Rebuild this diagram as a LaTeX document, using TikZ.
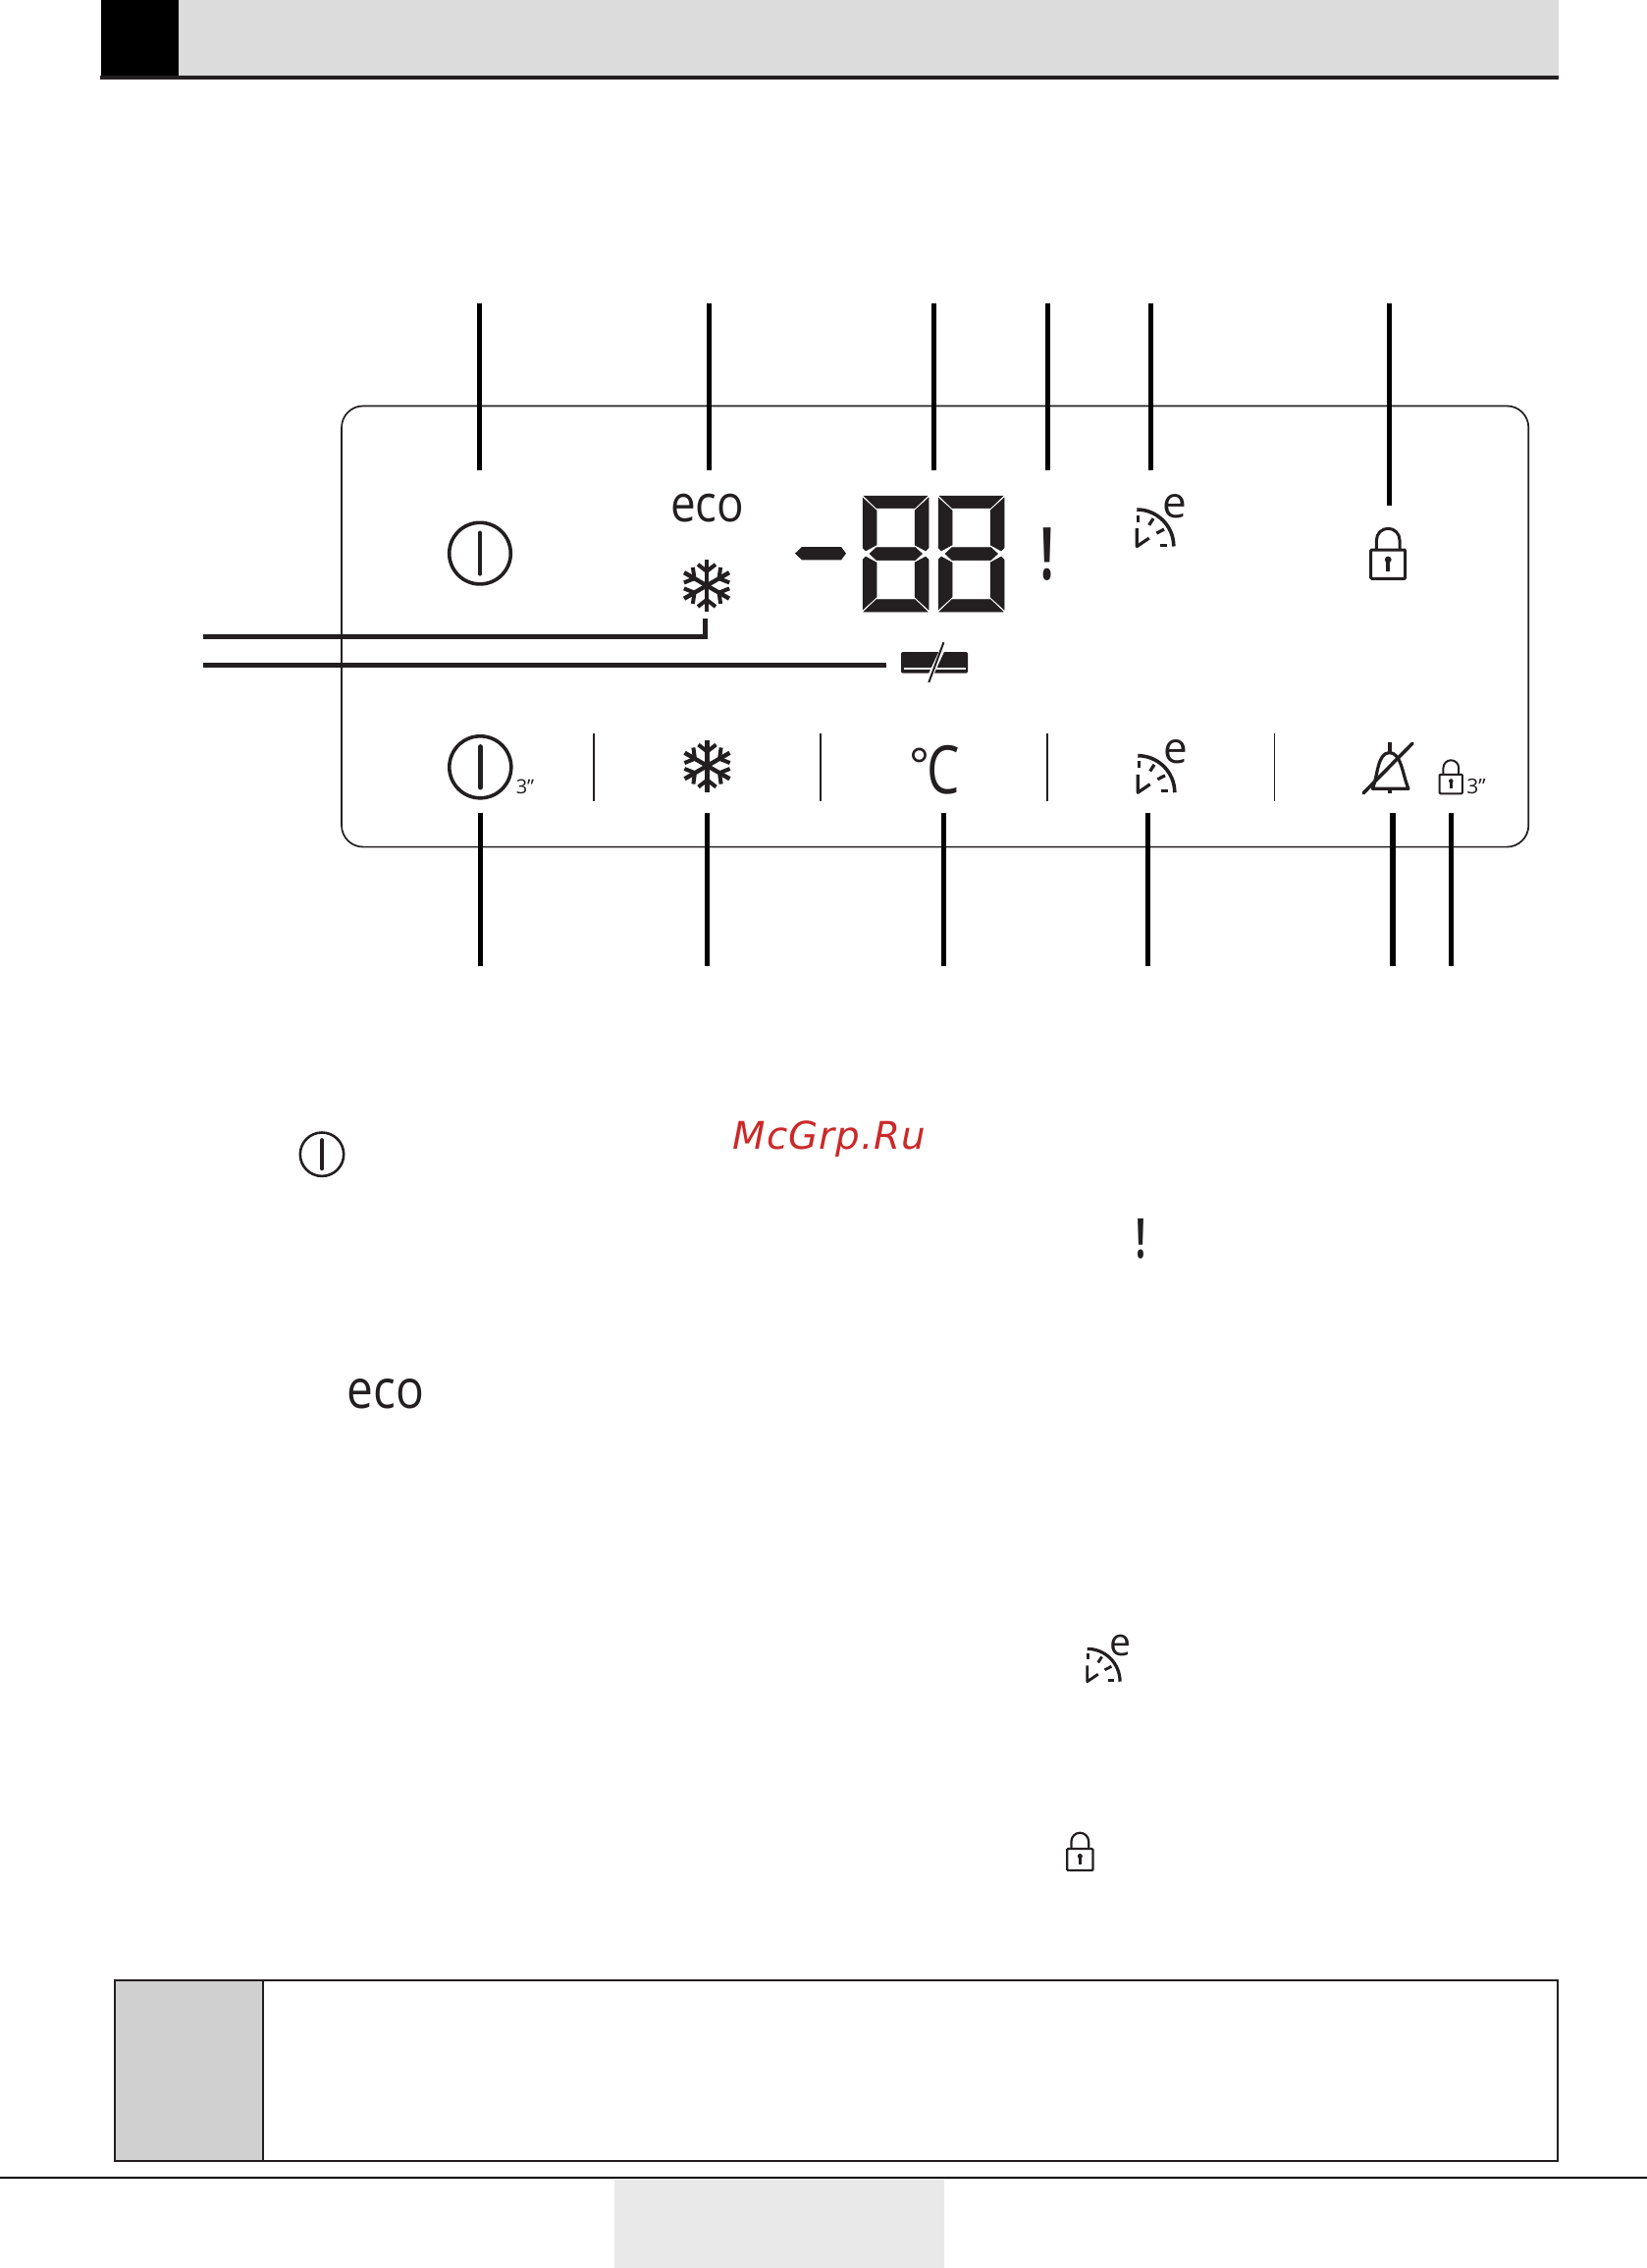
\documentclass[tikz,border=0pt]{standalone}
\usepackage{fontspec}
\setmainfont{Open Sans}
\newfontfamily\markfont[LetterSpace=2.5]{DejaVu Sans}
\definecolor{inkblack}{RGB}{35,31,32}
\definecolor{headgray}{RGB}{220,220,220}
\definecolor{notegray}{RGB}{208,208,208}
\definecolor{footgray}{RGB}{233,233,233}
\definecolor{markred}{RGB}{204,40,40}
\tikzset{
  lead/.style={black, line width=5pt},
  leader/.style={inkblack, line width=4.6pt},
  sepline/.style={inkblack, line width=1.6pt},
  label/.style={inkblack, inner sep=0pt, anchor=base},
}
% icons, origin at the centre or at the lower corner
\newcommand{\powericon}[4]{
  \draw[inkblack, line width=#4pt] (#1, #2) circle (#3);
  \draw[inkblack, line width=#4pt + 1.2pt, line cap=round]
    (#1, #2 - 0.66*#3) -- (#1, #2 + 0.66*#3);
}
\newcommand{\snowicon}[2]{
  \begin{scope}[shift={(#1, #2)}]
    \foreach \a in {0, 60, ..., 300} {
      \draw[inkblack, line width=4.4pt, rotate=\a] (0, 0) -- (0, -26.5);
      \draw[inkblack, line width=4pt, rotate=\a] (-9, -21.5) -- (0, -14.5) -- (9, -21.5);
    }
  \end{scope}
}
\newcommand{\clockicon}[3]{
  \begin{scope}[shift={(#1, #2)}, scale=#3, inkblack]
    \draw[line width=#3*3.6pt] (0, -37.5) arc[start angle=-90, end angle=0, radius=37.5];
    \draw[line width=#3*3.2pt] (1, -32) -- (1, -25);
    \draw[line width=#3*3.2pt] (12.4, -21.7) -- (16.7, -28.4);
    \draw[line width=#3*3.2pt] (20, -13.4) -- (27.7, -17.4);
    \draw[line width=#3*3.2pt] (23.4, -1.4) -- (31, -1.4);
    \draw[line width=#3*3.2pt, line join=round] (0, -18.4) -- (0, 0) -- (12.4, -8.4);
    \node[label, anchor=center, scale=#3, font=\fontsize{44}{44}\selectfont] at (38.4, -41) {e};
  \end{scope}
}
\newcommand{\lockicon}[3]{
  \begin{scope}[shift={(#1, #2)}, scale=#3, inkblack]
    \draw[line width=#3*3pt, rounded corners=1pt] (-17.5, -29.3) rectangle (17.5, 0);
    \draw[line width=#3*3pt] (-11.8, -29.3) -- (-11.8, -39.2)
      arc[start angle=180, end angle=360, radius=11.8] -- (11.8, -29.3);
    \fill (0, -19.3) circle (3.4);
    \draw[line width=#3*3.8pt] (0, -19.3) -- (0, -7.6);
  \end{scope}
}
\newcommand{\lcddigit}[2]{
  \begin{scope}[shift={(#1 + 33.5, #2 + 59)}, inkblack]
    \foreach \my in {1, -1} {
      \filldraw[line width=0.5pt, yscale=\my] (-32.5, -59) -- (32.5, -59) -- (19.5, -46.5) -- (-19.5, -46.5) -- cycle;
      \foreach \mx in {1, -1} {
        \filldraw[line width=0.5pt, xscale=\mx, yscale=\my] (-33.5, -57) -- (-19.5, -44) -- (-19.5, -9)
          -- (-30.5, -3) -- (-33.5, -6) -- cycle;
      }
    }
    \filldraw[line width=0.5pt] (-26.5, 0) -- (-19.5, -6.5) -- (20, -6.5) -- (27, 0) -- (20, 6.5) -- (-19.5, 6.5) -- cycle;
  \end{scope}
}
\begin{document}
\begin{tikzpicture}[x=1pt, y=-1pt]
  \useasboundingbox (0, 0) rectangle (1678, 2310);
  % header band
  \fill[headgray] (182, 0) rectangle (1588, 76.5);
  \fill[black] (103, 0) rectangle (182, 76.7);
  \fill[inkblack] (102.3, 76.7) rectangle (1588, 81);
  % display panel
  \draw[inkblack, line width=1.7pt, rounded corners=22pt] (348, 413.5) rectangle (1557.3, 862.6);
  % leads above and below the panel
  \foreach \name/\x/\ya/\yb/\w in {power/488.6/309.4/479/5, eco/722.5/309.4/479/5, temp/951.7/309.4/479/5,
      alarm/1067/309.4/479/5, express/1172.6/309.4/479/5, lock/1415.5/309.4/515/5,
      keypower/489.6/827.7/983.5/5, keysnow/720.5/827.7/983.5/5, keytemp/961.3/827.7/983.5/5,
      keyexpress/1169.3/827.7/983.5/5, keybell/1419/827.7/983.5/6.2, keylock/1478.3/827.7/983.5/5} {
    \coordinate (\name a) at (\x, \ya);
    \coordinate (\name b) at (\x, \yb);
    \draw[lead, line width=\w pt] (\name a) -- (\name b);
  }
  \coordinate (snowa) at (207, 648.7);
  \coordinate (snowb) at (718.6, 648.7);
  \coordinate (snowc) at (718.6, 630);
  \draw[leader] (snowa) -- (snowb) -- (snowc);
  \coordinate (acl) at (207, 677.3);
  \coordinate (acr) at (903, 677.3);
  \draw[leader, line width=5.2pt] (acl) -- (acr);
  % upper row
  \powericon{489}{563.6}{31.3}{3.6}
  \node[label, font=\fontsize{52}{52}\selectfont] (ecotop) at (720.7, 531.7) {\scalebox{0.88}[1]{eco}};
  \snowicon{720}{596.4}
  \fill[inkblack] (810, 563.7) -- (817, 557) -- (857, 557) -- (862, 563.7) -- (857, 570.4) -- (817, 570.4) -- cycle;
  \lcddigit{879}{505}
  \lcddigit{956}{505}
  \node[label, font=\bfseries\fontsize{74}{74}\selectfont] (alarmtop) at (1067, 590) {\scalebox{0.62}[1]{!}};
  \clockicon{1158.3}{556.5}{1}
  \lockicon{1414.2}{589.3}{1}
  % ac symbol
  \fill[inkblack, rounded corners=2pt] (918, 664) rectangle (986, 685.7);
  \draw[white, line width=1.6pt] (920.6, 681) -- (983.5, 681);
  \draw[white, line width=5pt] (960, 662) -- (948, 688);
  \draw[inkblack, line width=2pt] (961.4, 654.3) -- (946.3, 695);
  % lower row
  \powericon{489.3}{781.3}{31.5}{3.6}
  \node[label, font=\fontsize{20}{20}\selectfont] (powersec) at (535, 808.3) {3”};
  \foreach \x in {604.7, 836, 1066.7, 1298.3} {
    \draw[sepline] (\x, 746.7) -- (\x, 816);
  }
  \snowicon{720.5}{780}
  \node[label, font=\fontsize{68}{68}\selectfont] (degree) at (952.5, 808.3)
    {\raisebox{11pt}{\scalebox{0.72}[0.72]{°}}\hspace{-3pt}\scalebox{0.78}[1]{C}};
  \clockicon{1159.3}{807.2}{1}
  % bell
  \draw[inkblack, line width=3.2pt, line join=round]
    (1398.3, 803.3) .. controls (1404, 790) and (1403, 767) .. (1415.7, 766.5)
    .. controls (1428, 767) and (1429, 790) .. (1435, 803.3) -- cycle;
  \draw[inkblack, line width=3.8pt] (1415.7, 756) -- (1415.7, 767);
  \draw[inkblack, line width=4.4pt] (1415.7, 803) -- (1415.7, 808.3);
  \draw[inkblack, line width=3.5pt, line cap=round] (1389, 807.8) -- (1439, 757.2);
  \lockicon{1478.3}{808.3}{0.667}
  \node[label, font=\fontsize{21}{21}\selectfont] (locksec) at (1504, 808.3) {3”};
  % icons of the text below
  \powericon{328}{1175.7}{22.2}{2.6}
  \node[label, font=\fontsize{38.8}{38.8}\selectfont\markfont\itshape, text=markred] (mark) at (845, 1170) {McGrp.Ru};
  \node[label, font=\bfseries\fontsize{56}{56}\selectfont] (alarmtext) at (1162.5, 1281) {\scalebox{0.62}[1]{!}};
  \node[label, font=\fontsize{55}{55}\selectfont] (ecotext) at (392.7, 1434.3) {\scalebox{0.87}[1]{eco}};
  \clockicon{1107.7}{1712.7}{0.89}
  \lockicon{1100.3}{1905}{0.75}
  % note box
  \fill[notegray] (116.7, 2016.7) rectangle (268, 2201);
  \draw[inkblack, line width=2pt] (116.7, 2016.7) rectangle (1587, 2201);
  \draw[inkblack, line width=2pt] (268, 2016.7) -- (268, 2201);
  % footer
  \draw[black, line width=1.3pt] (0, 2218) -- (1678, 2218);
  \fill[footgray] (626, 2220) rectangle (962, 2310);
\end{tikzpicture}
\end{document}
